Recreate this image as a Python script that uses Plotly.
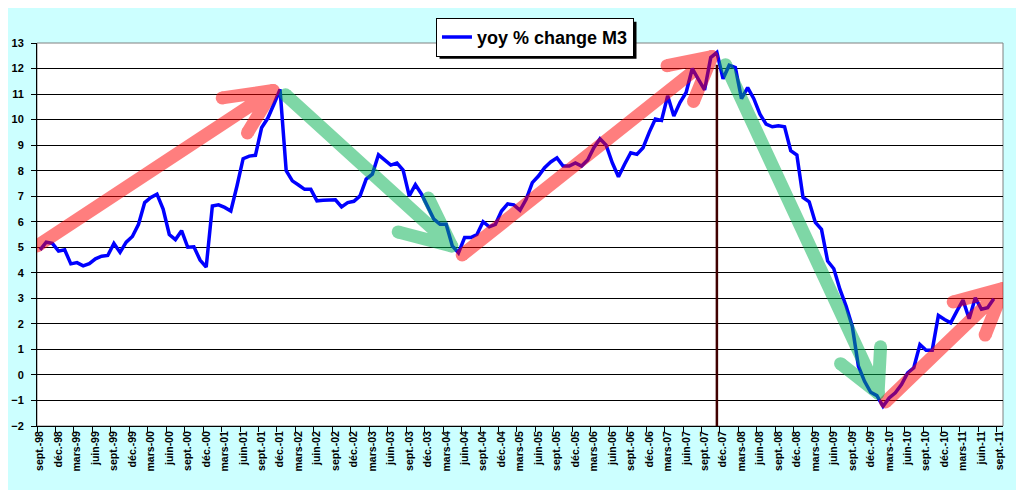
import plotly.graph_objects as go

# Year-on-year % change of M3, monthly, sept-98 .. aug-11
m3_yoy = [4.9, 5.2, 5.15, 4.85, 4.9, 4.35, 4.4, 4.27, 4.36, 4.55, 4.65, 4.68,
          5.15, 4.8, 5.2, 5.42, 5.9, 6.75, 6.95, 7.08, 6.5, 5.5, 5.3, 5.65,
          5.0, 5.02, 4.5, 4.22, 6.62, 6.66, 6.56, 6.42, 7.4, 8.47, 8.57, 8.6,
          9.68, 10.05, 10.6, 11.18, 8.0, 7.6, 7.44, 7.27, 7.27, 6.82, 6.84, 6.84,
          6.86, 6.58, 6.75, 6.8, 7.01, 7.67, 7.86, 8.62, 8.4, 8.22, 8.3, 8.02,
          7.01, 7.45, 7.08, 6.56, 6.1, 5.9, 5.9, 5.05, 4.78, 5.38, 5.38, 5.5,
          6.0, 5.8, 5.9, 6.42, 6.7, 6.66, 6.45, 6.88, 7.53, 7.79, 8.12, 8.34,
          8.5, 8.18, 8.18, 8.3, 8.18, 8.42, 8.9, 9.25, 9.0, 8.31, 7.76, 8.25,
          8.7, 8.64, 8.9, 9.5, 10.02, 9.97, 10.93, 10.14, 10.67, 11.06, 12.0, 11.58,
          11.16, 12.43, 12.63, 11.6, 12.13, 12.04, 10.82, 11.25, 10.82, 10.21, 9.82, 9.72,
          9.76, 9.72, 8.78, 8.61, 6.95, 6.78, 5.97, 5.7, 4.46, 4.16, 3.35, 2.7,
          1.91, 0.34, -0.25, -0.68, -0.81, -1.23, -0.9, -0.7, -0.38, 0.08, 0.28, 1.19,
          0.97, 0.97, 2.33, 2.17, 2.04, 2.5, 2.93, 2.2, 3.02, 2.57, 2.63, 2.98]

# one label every 3 months, sept-98 .. sept-11 (157 month slots)
tick_labels = ["sept.-98", "déc.-98",
               "mars-99", "juin-99", "sept.-99", "déc.-99",
               "mars-00", "juin-00", "sept.-00", "déc.-00",
               "mars-01", "juin-01", "sept.-01", "déc.-01",
               "mars-02", "juin-02", "sept.-02", "déc.-02",
               "mars-03", "juin-03", "sept.-03", "déc.-03",
               "mars-04", "juin-04", "sept.-04", "déc.-04",
               "mars-05", "juin-05", "sept.-05", "déc.-05",
               "mars-06", "juin-06", "sept.-06", "déc.-06",
               "mars-07", "juin-07", "sept.-07", "déc.-07",
               "mars-08", "juin-08", "sept.-08", "déc.-08",
               "mars-09", "juin-09", "sept.-09", "déc.-09",
               "mars-10", "juin-10", "sept.-10", "déc.-10",
               "mars-11", "juin-11", "sept.-11"]
n_slots = 157

# hand drawn trend arrows: (month index, value) for tail, tip, barb, barb
red_arrows = [
    [(-0.5, 5.05), (37.9, 11.14), (29.6, 10.85), (33.7, 9.48)],
    [(68.6, 4.7), (109.2, 12.47), (101.9, 12.11), (106.2, 10.71)],
    [(137.4, -1.06), (156.6, 3.39), (148.4, 2.86), (153.6, 1.56)],
]
green_arrows = [
    [(39.9, 10.97), (66.9, 5.05), (58.2, 5.6), (63.1, 6.93)],
    [(111.4, 12.15), (136.2, -0.71), (130.1, 0.44), (136.6, 1.1)],
]

# dark vertical marker at the nov-07 peak
peak_idx = 110
peak_top = 12.15

FONT = "Liberation Sans, Arial, sans-serif"

fig = go.Figure()

fig.add_trace(go.Scatter(x=list(range(len(m3_yoy))), y=m3_yoy, mode='lines',
                         name="yoy % change M3",
                         line=dict(color='#0000FF', width=3.5)))

fig.add_shape(type="line", xref='x', yref='y', x0=peak_idx, x1=peak_idx,
              y0=peak_top, y1=-2, line=dict(color='#400000', width=2.5))

def add_arrow(pts, color):
    tail, tip, b1, b2 = pts
    seq = [tail, tip, b1, tip, b2]
    fig.add_trace(go.Scatter(x=[p[0] for p in seq], y=[p[1] for p in seq],
                             mode='lines+markers', opacity=0.5, showlegend=False,
                             hoverinfo='skip',
                             line=dict(color=color, width=13),
                             marker=dict(color=color, size=13, line=dict(width=0))))

for a in red_arrows:
    add_arrow(a, '#FF0000')
for a in green_arrows:
    add_arrow(a, '#00B050')

# plot area border (grey, Excel style)
fig.add_shape(type="rect", xref='paper', yref='paper', x0=0, x1=1, y0=0, y1=1,
              line=dict(color='#808080', width=1), layer='below')

# drop shadow behind the legend box
fig.add_shape(type="rect", xref='paper', yref='paper', x0=0.4167, x1=0.6206,
              y0=0.959, y1=1.0557, fillcolor='black', line=dict(width=0), layer='above')

fig.update_xaxes(range=[-0.5, n_slots - 0.5],
                 tickmode='array', tickvals=list(range(0, n_slots, 3)), ticktext=tick_labels,
                 tickangle=-90, ticks='', showgrid=False, zeroline=False,
                 showline=True, linecolor='black', linewidth=1,
                 tickfont=dict(family=FONT, size=10.5, color='black', weight='bold'),
                 minor=dict(tickmode='linear', tick0=-0.5, dtick=3, ticks='outside',
                            ticklen=5, tickcolor='black', showgrid=False))
fig.update_yaxes(range=[-2, 13], tick0=0, dtick=1, ticks='outside', ticklen=5,
                 tickcolor='black', showgrid=True, gridcolor='black', gridwidth=1,
                 zeroline=False, showline=True, linecolor='black', linewidth=1,
                 ticklabelstandoff=5,
                 tickfont=dict(family=FONT, size=11, color='black', weight='bold'))

fig.update_layout(
    width=1024, height=490,
    margin=dict(l=29, r=29, t=35, b=72, autoexpand=False),
    paper_bgcolor='#CCFFFF', plot_bgcolor='white',
    font=dict(family=FONT, color='black'),
    showlegend=True,
    legend=dict(x=0.5155, y=1.0152, xanchor='center', yanchor='middle',
                bgcolor='white', bordercolor='black', borderwidth=1,
                font=dict(family=FONT, size=18, color='black', weight='bold')),
    hovermode=False)

fig.write_html("out.html")
